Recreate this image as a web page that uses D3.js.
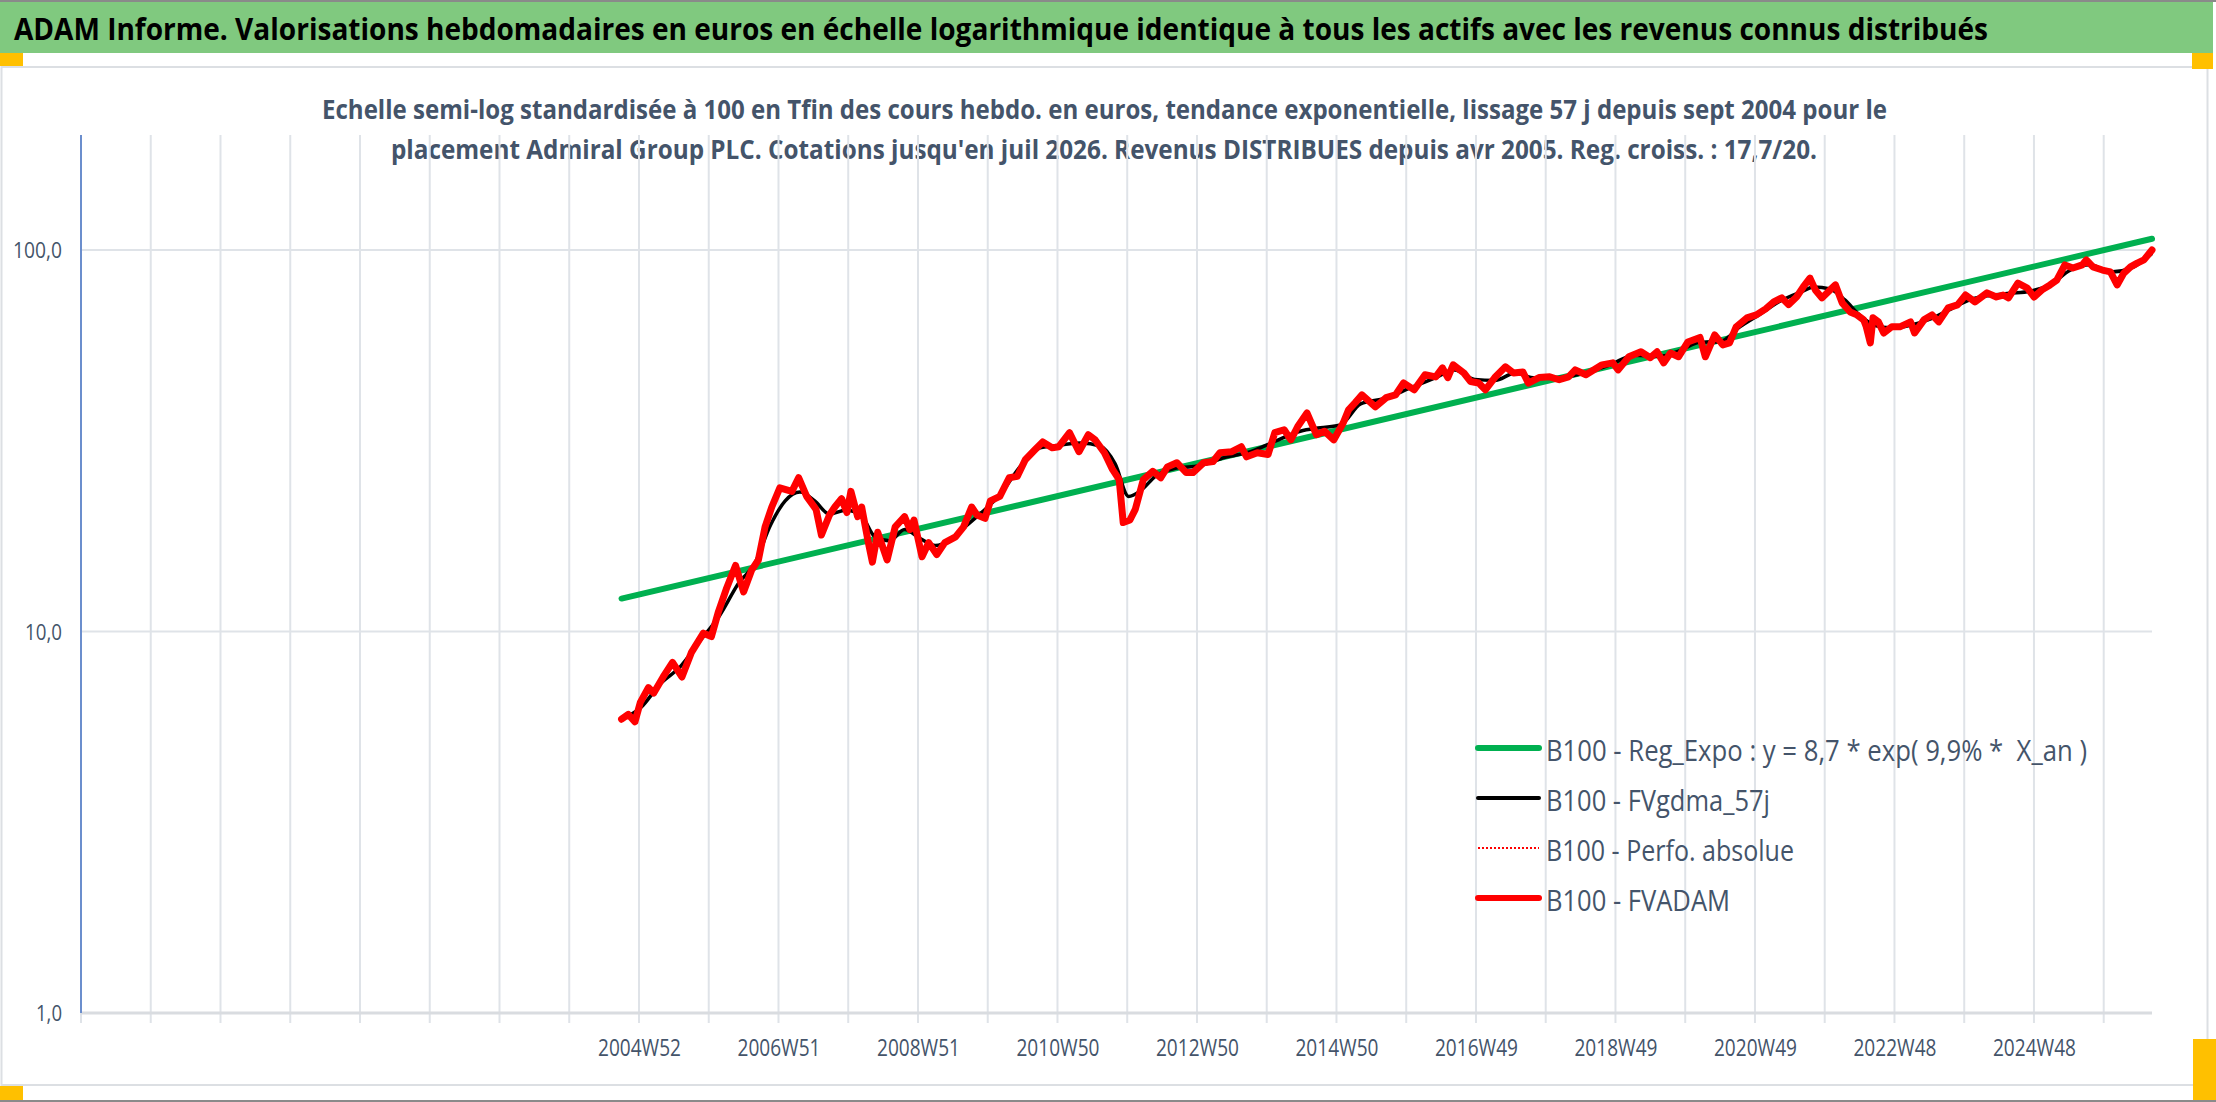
<!DOCTYPE html>
<html>
<head>
<meta charset="utf-8">
<script src="https://cdn.jsdelivr.net/npm/d3@7"></script>
<style>
  body { margin: 0; background: #ffffff; }
  svg { display: block; }
  text { white-space: pre; }
</style>
</head>
<body>
<div id="chart"></div>
<script>
// semaines comptees depuis le debut de l'axe des categories
var nbSemaines = 1544;

var xTickLabels = ["2004W52", "2006W51", "2008W51", "2010W50", "2012W50", "2014W50",
                   "2016W49", "2018W49", "2020W49", "2022W48", "2024W48"];
var yTickValues = [1, 10, 100];
var yTickLabels = ["1,0", "10,0", "100,0"];

var serieNoms = ["B100 - Reg_Expo : y = 8,7 * exp( 9,9% *  X_an )",
                 "B100 - FVgdma_57j",
                 "B100 - Perfo. absolue",
                 "B100 - FVADAM"];

// [semaine, valeur]
var regExpo = [[403, 12.2], [1544, 107]];

var fvgdma = [
  [403, 5.9], [417, 6.3], [432, 7.3], [447, 8.1], [461, 9.4], [476, 11.0], [491, 13.5],
  [502, 15.0], [514, 19.0], [525, 22.0], [536, 23.2], [547, 22.0], [558, 20.3], [570, 20.8],
  [581, 20.3], [592, 17.7], [603, 17.3], [614, 18.5], [626, 17.5], [637, 16.8], [648, 17.4],
  [659, 18.8], [670, 20.3], [685, 22.8], [700, 27.0], [715, 30.3], [730, 30.8], [745, 31.2],
  [760, 30.6], [771, 27.5], [781, 22.6], [790, 23.4], [801, 25.5], [816, 26.8], [834, 27.2],
  [853, 28.6], [872, 29.6], [890, 31.5], [909, 33.5], [924, 34.2], [939, 34.8], [954, 39.5],
  [972, 40.8], [991, 43.5], [1010, 46.3], [1024, 48.5], [1039, 45.8], [1054, 45.5], [1069, 47.5],
  [1084, 46.2], [1102, 46.3], [1121, 47.6], [1140, 50.0], [1158, 53.0], [1177, 52.6], [1192, 54.5],
  [1207, 57.3], [1222, 57.5], [1237, 63.0], [1252, 68.0], [1267, 73.5], [1282, 77.5], [1292, 80.0],
  [1304, 79.0], [1315, 74.0], [1326, 67.5], [1337, 63.5], [1349, 62.5], [1364, 63.5], [1379, 66.0],
  [1394, 70.0], [1408, 74.0], [1423, 76.0], [1438, 77.0], [1453, 78.0], [1468, 81.0], [1483, 88.5],
  [1498, 91.5], [1513, 87.5], [1528, 89.5], [1544, 98.0]
];

var fvadam = [
  [403, 5.89], [408, 6.06], [413, 5.8], [417, 6.52], [423, 7.13], [427, 6.9], [434, 7.6],
  [441, 8.3], [448, 7.6], [455, 8.8], [464, 9.9], [470, 9.7], [475, 11.2], [481, 12.9],
  [488, 14.9], [494, 12.7], [500, 14.5], [505, 15.4], [510, 18.8], [515, 21.2], [521, 23.8],
  [530, 23.3], [535, 25.3], [541, 22.6], [548, 20.9], [552, 17.9], [558, 20.2], [562, 21.2],
  [567, 22.3], [571, 20.5], [574, 23.3], [579, 20.0], [582, 21.2], [587, 17.1], [590, 15.2],
  [594, 18.2], [601, 15.4], [607, 18.8], [614, 20.0], [618, 18.5], [621, 19.6], [627, 15.7],
  [632, 17.1], [638, 15.9], [644, 17.1], [652, 17.7], [658, 18.8], [664, 21.2], [668, 20.2],
  [674, 19.8], [678, 22.0], [685, 22.6], [692, 25.3], [698, 25.5], [704, 28.2], [711, 29.9],
  [717, 31.4], [724, 30.3], [729, 30.5], [737, 33.2], [744, 29.6], [751, 32.8], [756, 31.8],
  [763, 29.4], [769, 26.6], [774, 25.0], [777, 19.3], [782, 19.6], [786, 20.9], [792, 25.0],
  [799, 26.3], [805, 25.3], [810, 27.0], [817, 27.7], [824, 26.1], [829, 26.1], [837, 27.7],
  [844, 27.9], [849, 29.4], [858, 29.6], [865, 30.5], [869, 28.7], [877, 29.4], [885, 29.1],
  [890, 33.2], [897, 33.8], [902, 31.8], [907, 34.4], [914, 37.4], [921, 32.8], [927, 33.5],
  [934, 31.8], [941, 35.2], [945, 38.1], [950, 39.8], [955, 41.7], [965, 38.8], [973, 41.0],
  [980, 41.7], [986, 44.8], [994, 43.0], [1002, 47.1], [1010, 46.5], [1015, 49.1], [1019, 46.3],
  [1023, 50.0], [1031, 47.6], [1036, 45.2], [1042, 44.8], [1047, 43.0], [1054, 46.3], [1062, 49.4],
  [1068, 47.6], [1075, 47.9], [1079, 44.8], [1087, 46.3], [1095, 46.5], [1102, 45.7], [1109, 46.5],
  [1114, 48.5], [1122, 47.1], [1134, 50.0], [1142, 50.6], [1146, 48.5], [1154, 52.5], [1163, 54.1],
  [1170, 52.2], [1175, 54.1], [1180, 50.6], [1185, 53.7], [1191, 52.5], [1198, 57.4], [1207, 59.0],
  [1211, 52.5], [1218, 59.9], [1224, 56.4], [1229, 57.1], [1234, 62.9], [1242, 66.4], [1249, 67.6],
  [1256, 70.1], [1262, 73.1], [1268, 74.9], [1273, 71.9], [1279, 75.3], [1284, 80.0], [1289, 84.4],
  [1293, 78.6], [1298, 74.9], [1304, 78.6], [1308, 81.0], [1313, 72.7], [1319, 68.8], [1324, 67.6],
  [1329, 65.6], [1331, 62.9], [1334, 57.1], [1336, 66.4], [1340, 64.8], [1344, 60.6], [1350, 62.9],
  [1356, 62.9], [1364, 64.8], [1367, 60.6], [1374, 65.6], [1380, 67.6], [1385, 64.8], [1392, 70.5],
  [1399, 71.8], [1405, 76.2], [1412, 73.1], [1421, 77.2], [1428, 75.3], [1433, 76.2], [1437, 74.9],
  [1444, 81.9], [1451, 79.5], [1456, 75.3], [1462, 78.6], [1468, 81.0], [1473, 83.4], [1479, 91.4],
  [1485, 89.7], [1492, 91.4], [1495, 94.2], [1500, 90.3], [1507, 88.6], [1513, 87.6], [1518, 81.0],
  [1523, 87.0], [1528, 90.3], [1533, 92.4], [1538, 94.2], [1544, 100]
];

var W = 2216, H = 1102;
var plot = {left: 81, right: 2152, top: 135, bottom: 1013};
var font = "'Open Sans', 'Noto Sans', sans-serif";
var gris = "#44546a";

var svg = d3.select("#chart").append("svg")
    .attr("width", W)
    .attr("height", H);

// fond et cadres
svg.append("rect").attr("width", W).attr("height", H).attr("fill", "#ffffff");
svg.append("rect").attr("x", 0).attr("y", 0).attr("width", 2213).attr("height", 53).attr("fill", "#80c97f");
svg.append("line").attr("x1", 0).attr("x2", W).attr("y1", 1).attr("y2", 1)
    .attr("stroke", "#8a8a8a").attr("stroke-width", 2);
svg.append("rect").attr("x", 1.5).attr("y", 67).attr("width", 2206).attr("height", 1018)
    .attr("fill", "none").attr("stroke", "#dcdfe3").attr("stroke-width", 2);
svg.append("line").attr("x1", 0).attr("x2", W).attr("y1", 1101).attr("y2", 1101)
    .attr("stroke", "#8a8a8a").attr("stroke-width", 2);

var orange = "#ffc000";
svg.append("rect").attr("x", 0).attr("y", 53).attr("width", 23).attr("height", 13).attr("fill", orange);
svg.append("rect").attr("x", 2192).attr("y", 53).attr("width", 21).attr("height", 16).attr("fill", orange);
svg.append("rect").attr("x", 0).attr("y", 1086).attr("width", 23).attr("height", 14).attr("fill", orange);
svg.append("rect").attr("x", 2193).attr("y", 1039).attr("width", 23).attr("height", 61).attr("fill", orange);

// titres
svg.append("text")
    .attr("x", 14).attr("y", 40)
    .attr("textLength", 1974).attr("lengthAdjust", "spacingAndGlyphs")
    .style("font-family", font).style("font-weight", "bold").style("font-size", "30px")
    .attr("fill", "#000000")
    .text("ADAM Informe. Valorisations hebdomadaires en euros en échelle logarithmique identique à tous les actifs avec les revenus connus distribués");

var sousTitre = [
    {t: "Echelle semi-log standardisée à 100 en Tfin des cours hebdo. en euros, tendance exponentielle, lissage 57 j depuis sept 2004 pour le", x: 322, w: 1565, y: 119},
    {t: "placement Admiral Group PLC. Cotations jusqu'en juil 2026. Revenus DISTRIBUES depuis avr 2005. Reg. croiss. : 17,7/20.", x: 391, w: 1426, y: 159}
];
svg.selectAll(".sous-titre").data(sousTitre).enter().append("text")
    .attr("class", "sous-titre")
    .attr("x", function (d) { return d.x; })
    .attr("y", function (d) { return d.y; })
    .attr("textLength", function (d) { return d.w; })
    .attr("lengthAdjust", "spacingAndGlyphs")
    .style("font-family", font).style("font-weight", "bold").style("font-size", "27px")
    .attr("fill", gris)
    .text(function (d) { return d.t; });

var x = d3.scaleLinear().domain([0, nbSemaines]).range([plot.left, plot.right]);
var y = d3.scaleLog().domain([1, 100]).range([plot.bottom, 250]);

// grille verticale tous les 52 points
var grille = d3.range(0, nbSemaines + 1, 52);
svg.append("g").selectAll("line").data(grille).enter().append("line")
    .attr("x1", function (d) { return x(d); })
    .attr("x2", function (d) { return x(d); })
    .attr("y1", plot.top)
    .attr("y2", plot.bottom + 10)
    .attr("stroke", "#dfe3e8").attr("stroke-width", 2);

svg.append("g").selectAll("line").data([10, 100]).enter().append("line")
    .attr("x1", plot.left).attr("x2", plot.right)
    .attr("y1", function (d) { return y(d); })
    .attr("y2", function (d) { return y(d); })
    .attr("stroke", "#dfe3e8").attr("stroke-width", 2);

svg.append("line")
    .attr("x1", plot.left).attr("x2", plot.right)
    .attr("y1", plot.bottom).attr("y2", plot.bottom)
    .attr("stroke", "#d9dce0").attr("stroke-width", 3);
svg.append("line")
    .attr("x1", plot.left).attr("x2", plot.left)
    .attr("y1", plot.top).attr("y2", plot.bottom)
    .attr("stroke", "#4472c4").attr("stroke-width", 1.5);

// etiquettes
var yLargeurs = [26, 37, 49];
svg.append("g").selectAll("text").data(yTickValues).enter().append("text")
    .attr("x", 62)
    .attr("y", function (d) { return y(d) + 8; })
    .attr("text-anchor", "end")
    .attr("textLength", function (d, i) { return yLargeurs[i]; })
    .attr("lengthAdjust", "spacingAndGlyphs")
    .style("font-family", font).style("font-size", "21px")
    .attr("fill", gris)
    .text(function (d, i) { return yTickLabels[i]; });

svg.append("g").selectAll("text").data(xTickLabels).enter().append("text")
    .attr("x", function (d, i) { return x(416 + 104 * i) - 41; })
    .attr("y", 1056)
    .attr("textLength", 83)
    .attr("lengthAdjust", "spacingAndGlyphs")
    .style("font-family", font).style("font-size", "24px")
    .attr("fill", gris)
    .text(function (d) { return d; });

// series
var ligne = d3.line()
    .x(function (d) { return x(d[0]); })
    .y(function (d) { return y(d[1]); });

svg.append("path").datum(regExpo)
    .attr("d", ligne).attr("fill", "none")
    .attr("stroke", "#00b050").attr("stroke-width", 6).attr("stroke-linecap", "round");

svg.append("path").datum(fvgdma)
    .attr("d", ligne.curve(d3.curveMonotoneX)).attr("fill", "none")
    .attr("stroke", "#000000").attr("stroke-width", 3.5);

svg.append("path").datum(fvadam)
    .attr("d", ligne.curve(d3.curveLinear)).attr("fill", "none")
    .attr("stroke", "#ff0000").attr("stroke-width", 7)
    .attr("stroke-linejoin", "round").attr("stroke-linecap", "round");

// legende
var legende = [
    {couleur: "#00b050", epais: 6, tirets: null, w: 541},
    {couleur: "#000000", epais: 4, tirets: null, w: 224},
    {couleur: "#ff0000", epais: 2, tirets: "2,2", w: 248},
    {couleur: "#ff0000", epais: 6, tirets: null, w: 184}
];
var leg = svg.append("g").selectAll("g").data(legende).enter().append("g")
    .attr("transform", function (d, i) { return "translate(0," + (748 + i * 50) + ")"; });
leg.append("line")
    .attr("x1", 1478).attr("x2", 1539)
    .attr("stroke", function (d) { return d.couleur; })
    .attr("stroke-width", function (d) { return d.epais; })
    .attr("stroke-dasharray", function (d) { return d.tirets; })
    .attr("stroke-linecap", function (d) { return d.tirets ? "butt" : "round"; });
leg.append("text")
    .attr("x", 1546).attr("y", 13)
    .attr("textLength", function (d) { return d.w; })
    .attr("lengthAdjust", "spacingAndGlyphs")
    .style("font-family", font).style("font-size", "30px")
    .attr("fill", gris)
    .text(function (d, i) { return serieNoms[i]; });
</script>
</body>
</html>
